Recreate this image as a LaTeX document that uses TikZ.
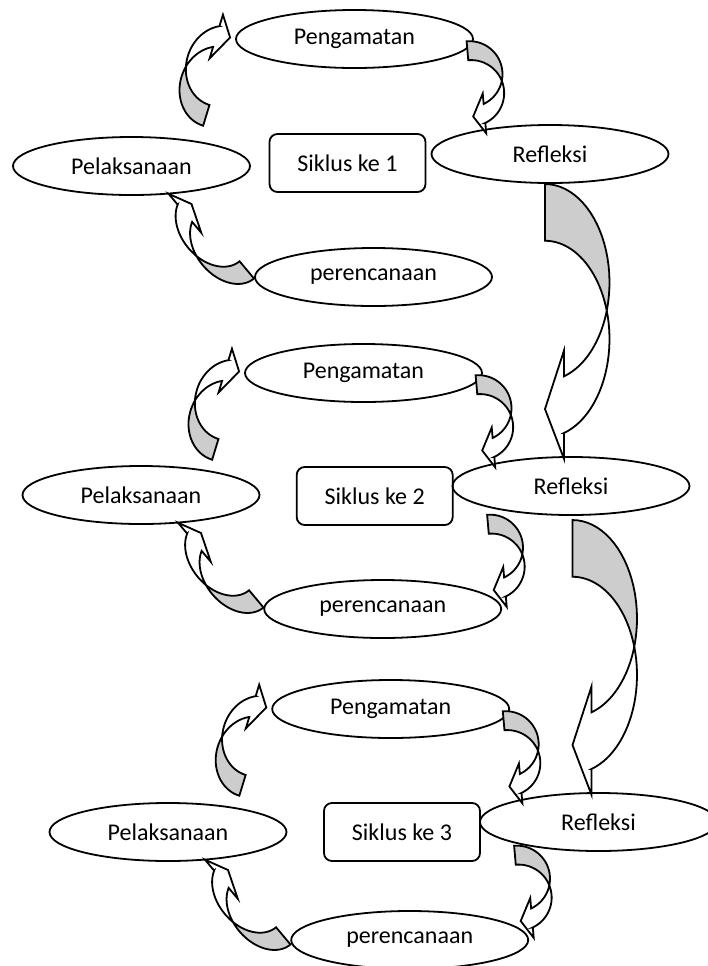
\documentclass[tikz,border=0pt]{standalone}
\usepackage{fontspec}
\setmainfont{Carlito}
\usepackage{tikz}
\usetikzlibrary{shapes.geometric,calc}
\usepackage{xcolor}
\definecolor{Bayang}{RGB}{205,205,205}

% curved block arrow with its tip at the origin
% #1 bulge, #2 half height, #3 band, #4 head width, #5 head length
\newcommand{\lengkung}[5]{%
  \pgfmathsetmacro{\lkw}{#1}%
  \pgfmathsetmacro{\lkr}{#2}%
  \pgfmathsetmacro{\lkt}{#3}%
  \pgfmathsetmacro{\lkh}{#4}%
  \pgfmathsetmacro{\lkl}{#5}%
  \pgfmathsetmacro{\lkb}{asin(\lkt/(2*\lkr))}%
  \pgfmathsetmacro{\lkg}{asin(\lkl/\lkw)}%
  \pgfmathsetmacro{\lkp}{180-\lkb}%
  \pgfmathsetmacro{\lkq}{180+\lkb}%
  \pgfmathsetmacro{\lks}{90+\lkg}%
  \pgfmathsetmacro{\lka}{-\lkr-\lkt/2}%
  \pgfmathsetmacro{\lkc}{-\lkr+\lkt/2}%
  \pgfmathsetmacro{\lkf}{\lkr*cos(\lkg)-\lkr-\lkt/2}%
  \pgfmathsetmacro{\lkd}{\lkf-(\lkh-\lkt)/2}%
  \pgfmathsetmacro{\lke}{\lkf+\lkt}%
  \pgfmathsetmacro{\lkk}{\lke+(\lkh-\lkt)/2}%
  \filldraw[fill=Bayang] plot[domain=270:\lkp] ({\lkw*cos(\x)},{\lka+\lkr*sin(\x)})
    -- plot[domain=\lkq:270] ({\lkw*cos(\x)},{\lkc+\lkr*sin(\x)}) -- cycle;
  \filldraw[fill=white] plot[domain=\lkp:\lks] ({\lkw*cos(\x)},{\lka+\lkr*sin(\x)})
    -- (-\lkl,\lkd) -- (0,0) -- (-\lkl,\lkk) -- (-\lkl,\lke)
    -- plot[domain=\lks:\lkq] ({\lkw*cos(\x)},{\lkc+\lkr*sin(\x)}) -- cycle;
}

\begin{document}
\begin{tikzpicture}[x=0.5pt,y=-0.5pt,line width=0.9pt,
  tahap/.style={draw,ellipse,minimum width=118.5pt,minimum height=29pt,inner sep=0pt,
    font=\fontsize{12}{14}\selectfont},
  siklus/.style={draw,rounded corners=4pt,minimum width=78pt,minimum height=29pt,inner sep=0pt,
    font=\fontsize{12}{14}\selectfont}]
\useasboundingbox (0,0) rectangle (708,966);
%
% siklus ke 1
\node[tahap] (pga1) at (354.5,39) {Pengamatan};
\node[tahap] (pel1) at (131.5,166) {Pelaksanaan};
\node[siklus] (sik1) at (347.5,163) {Siklus ke 1};
\node[tahap] (ref1) at (550,154) {Refleksi};
\node[tahap] (per1) at (373.5,277) {perencanaan};
%
% siklus ke 2
\node[tahap] (pga2) at (363.5,373) {Pengamatan};
\node[tahap] (pel2) at (141,495) {Pelaksanaan};
\node[siklus] (sik2) at (374.7,496) {Siklus ke 2};
\node[tahap] (ref2) at (571,486) {Refleksi};
\node[tahap] (per2) at (382.7,609) {perencanaan};
%
% siklus ke 3
\node[tahap] (pga3) at (390.7,709) {Pengamatan};
\node[tahap] (pel3) at (168,832) {Pelaksanaan};
\node[siklus] (sik3) at (402,832) {Siklus ke 3};
\node[tahap] (ref3) at (598.5,822) {Refleksi};
\node[tahap] (per3) at (409.7,940) {perencanaan};
%
% panah siklus ke 1
\begin{scope}[shift={($(pga1.west)+(-5,-1.5)$)},rotate=-17,yscale=-1]
  \lengkung{35}{40.7}{21.7}{45.8}{13.5}
\end{scope}
\begin{scope}[shift={($(pga1.center)+(118.7,77.5)$)},rotate=5,xscale=-1]
  \lengkung{33}{33}{19}{40}{11.5}
\end{scope}
\begin{scope}[shift={($(pel1.center)+(60,38)$)},rotate=40,yscale=-1]
  \lengkung{30.7}{43}{22.5}{51}{11}
\end{scope}
%
% panah siklus ke 2
\begin{scope}[shift={($(pga2.west)+(-5,-1.5)$)},rotate=-17,yscale=-1]
  \lengkung{35}{40.7}{21.7}{45.8}{13.5}
\end{scope}
\begin{scope}[shift={($(pga2.center)+(118.7,77.5)$)},rotate=5,xscale=-1]
  \lengkung{33}{33}{19}{40}{11.5}
\end{scope}
\begin{scope}[shift={($(pel2.center)+(60,38)$)},rotate=40,yscale=-1]
  \lengkung{30.7}{43}{22.5}{51}{11}
\end{scope}
\begin{scope}[shift={($(per2.center)+(111,-19)$)},rotate=5,xscale=-1]
  \lengkung{33}{33}{19}{40}{11.5}
\end{scope}
%
% panah siklus ke 3
\begin{scope}[shift={($(pga3.west)+(-5,-1.5)$)},rotate=-17,yscale=-1]
  \lengkung{35}{40.7}{21.7}{45.8}{13.5}
\end{scope}
\begin{scope}[shift={($(pga3.center)+(118.7,77.5)$)},rotate=5,xscale=-1]
  \lengkung{33}{33}{19}{40}{11.5}
\end{scope}
\begin{scope}[shift={($(pel3.center)+(60,38)$)},rotate=40,yscale=-1]
  \lengkung{30.7}{43}{22.5}{51}{11}
\end{scope}
\begin{scope}[shift={($(per3.center)+(111,-19)$)},rotate=5,xscale=-1]
  \lengkung{33}{33}{19}{40}{11.5}
\end{scope}
%
% panah antar siklus
\begin{scope}[shift={($(ref2.center)+(-26,-77)$)},xscale=-1]
  \lengkung{64.5}{98.3}{56.7}{108.3}{19}
\end{scope}
\begin{scope}[shift={($(ref3.center)+(-26,-77)$)},xscale=-1]
  \lengkung{64.5}{98.3}{56.7}{108.3}{19}
\end{scope}
\end{tikzpicture}
\end{document}
